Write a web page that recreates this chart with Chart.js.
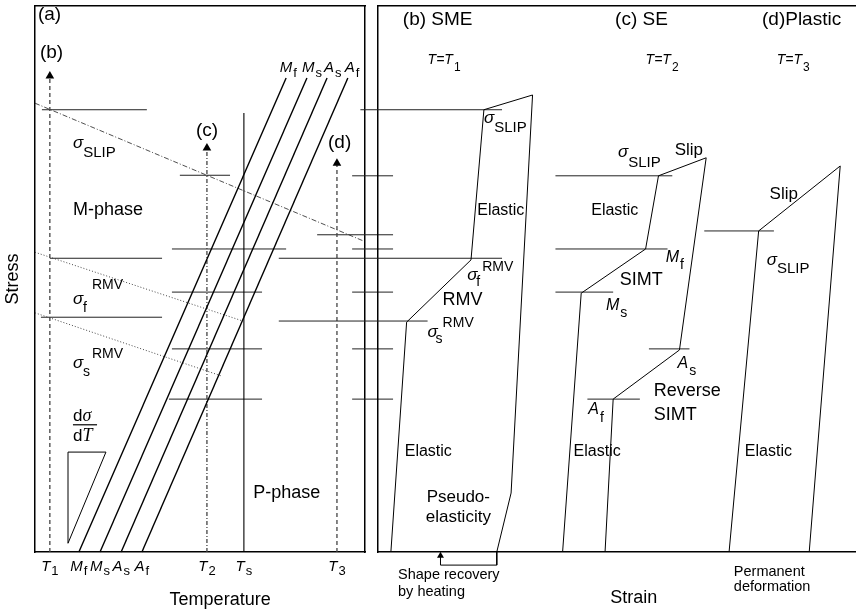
<!DOCTYPE html>
<html><head><meta charset="utf-8">
<script src="https://cdn.jsdelivr.net/npm/chart.js@4.4.0/dist/chart.umd.min.js"></script>
<style>
html,body{margin:0;padding:0;background:#fff;}
#wrap{position:relative;width:859px;height:609px;overflow:hidden;background:#fff;}
canvas{position:absolute;left:0;top:0;}
</style></head><body>
<div id="wrap"><canvas id="cL" width="859" height="609"></canvas><canvas id="cR" width="859" height="609"></canvas></div>
<script>
// ===== Panel (a): temperature (0-100) vs stress (0-100), schematic units =====
const tickTemps = [4.5, 13.3, 19.7, 26.1, 32.4, 52.1, 63.3, 91.5];
const tickMain  = ['T','M','M','A','A','T','T','T'];
const tickSub   = ['1','f','s','s','f','2','s','3'];

const transBottomT   = [13.3, 19.7, 26.1, 32.4];   // Mf, Ms, As, Af at zero stress
const transTopT      = [76.1, 82.4, 88.5, 94.8];
const transTopStress = 86.8;

const tsTemp = 63.3;
const tsTopStress = 80.4;

const arrowTemps = [4.5, 52.1, 91.5];   // T1, T2, T3 loading paths
const arrowTops  = [87.2, 74.0, 71.2];

const slipLineT = [0, 99.4];
const slipLineS = [82.2, 57.0];
const rmvFinishT = [0, 63.0];
const rmvFinishS = [54.9, 42.3];
const rmvStartT  = [0, 56.7];
const rmvStartS  = [43.8, 32.2];

const levelStressA = [81.0, 69.0, 58.1, 55.5, 53.8, 47.6, 43.0, 37.2, 28.0, 68.9, 55.5, 47.6, 37.2, 28.0];
const levelFromA   = [2.1, 43.9, 85.5, 41.5, 4.5, 41.5, 1.8, 41.5, 40.6, 96.1, 96.1, 96.1, 96.1, 96.1];
const levelToA     = [33.9, 59.1, 108.5, 76.1, 38.5, 68.8, 38.5, 68.8, 68.8, 108.5, 108.5, 108.5, 108.5, 108.5];

const slopeTriT = [10, 21.5, 10, 10];
const slopeTriS = [18.3, 18.3, 1.6, 18.3];

// ===== Panels (b)-(d): strain (0-100) vs stress =====
const smeStrain = [2.7, 6.0, 19.5, 22.2, 32.4, 27.9, 24.9];
const smeStress = [0, 42.1, 53.5, 81.0, 83.7, 10.8, 0];
const recoverStrain = [24.9, 24.9, 13.1, 13.1];
const recoverStress = [0, -2.4, -2.4, -0.7];
const seStrain = [38.7, 42.6, 56.1, 58.8, 68.8, 63.2, 49.3, 47.6];
const seStress = [0, 47.4, 55.5, 68.9, 72.2, 37.0, 28.0, 0];
const plStrain = [73.6, 79.8, 96.9, 90.4];
const plStress = [0, 58.8, 70.7, 0];

const levelStressB = [81.0, 53.8, 42.3, 68.9, 55.5, 47.6, 37.2, 28.0, 58.8];
const levelFromB   = [-3.7, -20.8, -20.8, 37.2, 37.2, 37.2, 56.8, 43.9, 68.4];
const levelToB     = [26.0, 26.0, 10.4, 61.7, 60.7, 49.3, 65.3, 54.9, 83.0];

// ===== styling / helpers =====
const SANS = "'Liberation Sans', Arial, Helvetica, sans-serif";
const SERIF = "'Liberation Serif', 'Times New Roman', serif";

function pts(xs, ys){ return xs.map((x,i)=>({x:x, y:ys[i]})); }
function seg(xs, ys, style){
  return Object.assign({data: pts(xs, ys), showLine:true, pointRadius:0, pointHoverRadius:0,
    borderColor:'#000', borderWidth:1, fill:false, tension:0, clip:false}, style||{});
}
function arrow(x, top, dash, radius){
  return seg([x, x], [0, top], {borderDash:dash, borderColor:'#444', borderWidth:1.3,
    pointRadius:[0, radius||5], pointStyle:'triangle', pointBackgroundColor:'#000',
    pointBorderColor:'#000', pointBorderWidth:0});
}

function fontOf(p){ return (p.i?'italic ':'') + p.s + 'px ' + (p.serif?SERIF:SANS); }
function drawRich(ctx, x, y, parts, align){
  ctx.save();
  ctx.textBaseline = 'middle'; ctx.textAlign = 'left'; ctx.fillStyle = '#000';
  let cur = 0, maxR = 0; const pos = [];
  for (const p of parts){
    ctx.font = fontOf(p);
    const w = ctx.measureText(p.t).width;
    const px = (p.dx !== undefined) ? p.dx : cur + (p.gap||0);
    pos.push(px); cur = px + w; if (cur > maxR) maxR = cur;
  }
  const ox = align === 'center' ? x - maxR/2 : x;
  parts.forEach((p,i)=>{ ctx.font = fontOf(p); ctx.fillText(p.t, ox+pos[i], y+(p.dy||0)); });
  ctx.restore();
}
function textPlugin(id, labels, extra){
  return { id: id, afterDatasetsDraw(chart){
    const ctx = chart.ctx, sx = chart.scales.x, sy = chart.scales.y;
    for (const l of labels){
      if (l.bar){
        ctx.save(); ctx.strokeStyle='#000'; ctx.lineWidth=1.2; ctx.beginPath();
        const yy = sy.getPixelForValue(l.y);
        ctx.moveTo(sx.getPixelForValue(l.x), yy); ctx.lineTo(sx.getPixelForValue(l.x2), yy);
        ctx.stroke(); ctx.restore(); continue;
      }
      drawRich(ctx, sx.getPixelForValue(l.x), sy.getPixelForValue(l.y), l.p, l.align);
    }
    if (extra) extra(chart);
  }};
}
const sig = {t:'σ', s:17, i:true};

const labelsA = [
  {x:0.9, y:98.4, p:[{t:'(a)', s:19}]},
  {x:1.5, y:91.4, p:[{t:'(b)', s:19}]},
  {x:48.8, y:77.1, p:[{t:'(c)', s:19}]},
  {x:88.8, y:74.9, p:[{t:'(d)', s:19}]},
  {x:74.2, y:88.6, p:[{t:'M', s:15, i:true},{t:'f', s:13, dy:5, gap:1}]},
  {x:80.9, y:88.6, p:[{t:'M', s:15, i:true},{t:'s', s:13, dy:5, gap:1}]},
  {x:87.6, y:88.6, p:[{t:'A', s:15, i:true},{t:'s', s:13, dy:5, gap:1}]},
  {x:93.9, y:88.6, p:[{t:'A', s:15, i:true},{t:'f', s:13, dy:5, gap:1}]},
  {x:11.5, y:74.9, p:[sig,{t:'SLIP', s:15, dy:10}]},
  {x:11.5, y:62.6, p:[{t:'M-phase', s:18}]},
  {x:11.5, y:46.2, p:[sig,{t:'f', s:14, dx:10, dy:8},{t:'RMV', s:14, dx:19, dy:-15}]},
  {x:11.5, y:34.6, p:[sig,{t:'s', s:14, dx:10, dy:9},{t:'RMV', s:14, dx:19, dy:-9}]},
  {x:11.5, y:24.9, p:[{t:'d', s:17},{t:'σ', s:18, i:true, serif:true}]},
  {bar:true, x:11.5, x2:18.8, y:23.3},
  {x:11.5, y:21.2, p:[{t:'d', s:17},{t:'T', s:18, i:true, serif:true}]},
  {x:66.1, y:10.8, p:[{t:'P-phase', s:18}]},
  {x:56.1, y:-8.8, align:'center', p:[{t:'Temperature', s:18}]}
];

const labelsB = [
  {x:5.2, y:97.4, p:[{t:'(b) SME', s:19}]},
  {x:10.4, y:90.1, p:[{t:'T=T', s:14, i:true},{t:'1', s:12, dy:8, gap:1}]},
  {x:49.7, y:97.4, p:[{t:'(c) SE', s:19}]},
  {x:56.1, y:90.1, p:[{t:'T=T', s:14, i:true},{t:'2', s:12, dy:8, gap:1}]},
  {x:80.5, y:97.4, p:[{t:'(d)Plastic', s:19}]},
  {x:83.6, y:90.1, p:[{t:'T=T', s:14, i:true},{t:'3', s:12, dy:8, gap:1}]},
  {x:22.2, y:79.5, p:[sig,{t:'SLIP', s:15, dy:10}]},
  {x:50.3, y:73.3, p:[sig,{t:'SLIP', s:15, dy:11}]},
  {x:62.2, y:73.6, p:[{t:'Slip', s:17}]},
  {x:82.1, y:65.6, p:[{t:'Slip', s:17}]},
  {x:20.8, y:62.6, p:[{t:'Elastic', s:16}]},
  {x:44.7, y:62.6, p:[{t:'Elastic', s:16}]},
  {x:60.3, y:54.0, p:[{t:'M', s:16, i:true},{t:'f', s:14, dy:8, gap:1}]},
  {x:18.7, y:50.7, p:[sig,{t:'f', s:14, dx:9, dy:7},{t:'RMV', s:14, dx:15, dy:-8}]},
  {x:13.5, y:46.2, p:[{t:'RMV', s:18}]},
  {x:50.7, y:49.8, p:[{t:'SIMT', s:18}]},
  {x:47.8, y:45.1, p:[{t:'M', s:16, i:true},{t:'s', s:14, dy:7, gap:1}]},
  {x:10.4, y:40.3, p:[sig,{t:'s', s:14, dx:8, dy:7},{t:'RMV', s:14, dx:15, dy:-9}]},
  {x:81.5, y:53.5, p:[sig,{t:'SLIP', s:15, dy:9}]},
  {x:62.8, y:34.6, p:[{t:'A', s:16, i:true},{t:'s', s:14, dy:8, gap:1}]},
  {x:57.8, y:29.5, p:[{t:'Reverse', s:18}]},
  {x:57.8, y:25.1, p:[{t:'SIMT', s:18}]},
  {x:44.1, y:26.0, p:[{t:'A', s:16, i:true},{t:'f', s:14, dy:8, gap:1}]},
  {x:5.6, y:18.3, p:[{t:'Elastic', s:16}]},
  {x:41.0, y:18.3, p:[{t:'Elastic', s:16}]},
  {x:76.9, y:18.3, p:[{t:'Elastic', s:16}]},
  {x:10.2, y:10.1, p:[{t:'Pseudo-', s:17}]},
  {x:10.0, y:6.4, p:[{t:'elasticity', s:17}]},
  {x:4.2, y:-4.2, p:[{t:'Shape recovery', s:14.5}]},
  {x:4.2, y:-7.3, p:[{t:'by heating', s:14.5}]},
  {x:74.6, y:-3.7, p:[{t:'Permanent', s:14.5}]},
  {x:74.6, y:-6.4, p:[{t:'deformation', s:14.5}]},
  {x:53.6, y:-8.4, align:'center', p:[{t:'Strain', s:18}]}
];

function tickLabelDraw(chart){
  const sx = chart.scales.x, sy = chart.scales.y;
  tickTemps.forEach((t,i)=>{
    drawRich(chart.ctx, sx.getPixelForValue(t), sy.getPixelForValue(-2.7),
      [{t:tickMain[i], s:15, i:true},{t:tickSub[i], s:13, dy:5, gap:1}], 'center');
  });
}

function axis(pos, size, extra){
  return Object.assign({type:'linear', position:pos, min:0, max:100,
    grid:{display:false}, ticks:{display:false},
    border:{display:true, color:'#000', width:1.5},
    afterFit:(s)=>{ if (pos==='top'||pos==='bottom') s.height=size; else s.width=size; }}, extra||{});
}

// ----- left chart (a) -----
const dsA = [];
transBottomT.forEach((b,i)=>dsA.push(seg([b, transTopT[i]], [0, transTopStress], {borderWidth:1.4})));
dsA.push(seg([tsTemp, tsTemp], [0, tsTopStress], {borderWidth:1.1}));
dsA.push(arrow(arrowTemps[0], arrowTops[0], [4,3]));
dsA.push(arrow(arrowTemps[1], arrowTops[1], [4,2,1,2]));
dsA.push(arrow(arrowTemps[2], arrowTops[2], [4,3]));
dsA.push(seg(slipLineT, slipLineS, {borderDash:[5,2,1,2], borderWidth:0.8, borderColor:'#222'}));
dsA.push(seg(rmvFinishT, rmvFinishS, {borderDash:[1,2], borderWidth:0.9, borderColor:'#333'}));
dsA.push(seg(rmvStartT, rmvStartS, {borderDash:[1,2], borderWidth:0.9, borderColor:'#333'}));
levelStressA.forEach((s,i)=>dsA.push(seg([levelFromA[i], levelToA[i]], [s, s], {borderColor:'#222', borderWidth:1})));
dsA.push(seg(slopeTriT, slopeTriS, {borderWidth:1}));

new Chart(document.getElementById('cL'), {
  type:'scatter',
  data:{datasets:dsA},
  options:{
    responsive:false, animation:false, devicePixelRatio:1,
    layout:{padding:{left:0, top:6, right:494, bottom:0}},
    plugins:{legend:{display:false}, tooltip:{enabled:false}},
    events:[],
    scales:{
      x: axis('bottom', 57),
      xTop: axis('top', 0),
      y: axis('left', 35, {title:{display:true, text:'Stress', color:'#000', font:{family:SANS, size:18}, padding:{top:2, bottom:0}}}),
      yRight: axis('right', 0)
    }
  },
  plugins:[textPlugin('txtA', labelsA, tickLabelDraw)]
});

// ----- right chart (b)-(d) -----
const dsB = [];
dsB.push(seg(smeStrain, smeStress));
dsB.push(seg(recoverStrain, recoverStress, {pointRadius:[0,0,0,4], pointStyle:'triangle',
  pointBackgroundColor:'#000', pointBorderWidth:0}));
dsB.push(seg(seStrain, seStress));
dsB.push(seg(plStrain, plStress));
levelStressB.forEach((s,i)=>dsB.push(seg([levelFromB[i], levelToB[i]], [s, s], {borderColor:'#222', borderWidth:1})));

new Chart(document.getElementById('cR'), {
  type:'scatter',
  data:{datasets:dsB},
  options:{
    responsive:false, animation:false, devicePixelRatio:1,
    layout:{padding:{left:378, top:6, right:0, bottom:0}},
    plugins:{legend:{display:false}, tooltip:{enabled:false}},
    events:[],
    scales:{
      x: axis('bottom', 57),
      xTop: axis('top', 0),
      y: axis('left', 0)
    }
  },
  plugins:[textPlugin('txtB', labelsB)]
});
</script>
</body></html>
